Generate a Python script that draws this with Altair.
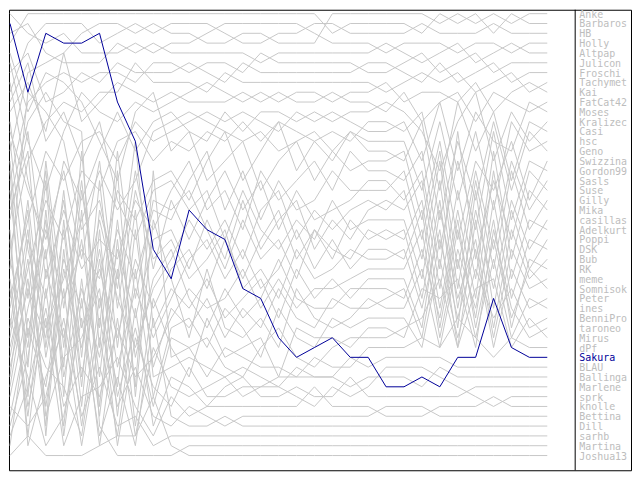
import altair as alt
import pandas as pd

names = ["Anke", "Barbaros", "HB", "Holly", "Altpap", "Julicon", "Froschi", "Tachymet",
         "Kai", "FatCat42", "Moses", "Kralizec", "Casi", "hsc", "Geno", "Swizzina",
         "Gordon99", "Sasls", "Suse", "Gilly", "Mika", "casillas", "Adelkurt", "Poppi",
         "DSK", "Bub", "RK", "meme", "Somnisok", "Peter", "ines", "BenniPro", "taroneo",
         "Mirus", "dPf", "Sakura", "BLAU", "Ballinga", "Marlene", "sprk", "knolle",
         "Bettina", "Dill", "sarhb", "Martina", "Joshua13"]

highlight = "Sakura"

anke     = [15,7,6,5,3,2,2,3,2, 3,3,4,4,3,3,4,4,4,1,1,1, 1,1,1,2,1,2,1,2,1,1]
barbaros = [4,1,1,1,1,1,1,1,1, 1,1,1,1,1,1,1,1,1,3,2,2, 2,2,3,1,2,1,3,1,2,2]
hb       = [9,4,2,2,2,4,3,2,3, 2,2,2,3,4,4,3,3,2,2,3,3, 3,3,2,3,3,3,2,3,3,3]
holly    = [1,3,4,3,5,5,5,4,5, 4,4,3,2,2,2,2,2,3,4,4,4, 5,4,4,4,5,4,4,5,4,4]
altpap   = [3,2,5,6,6,6,4,5,4, 5,5,5,5,5,6,5,5,5,5,5,5, 4,5,6,5,4,6,5,4,5,5]
julicon  = [18,10,8,7,8,7,7,8,6, 6,7,6,6,7,5,6,6,6,6,6,7, 7,6,5,7,6,5,7,6,6,6]
froschi  = [7,5,10,9,7,8,6,7,7, 7,6,7,8,6,7,7,7,7,7,7,6, 6,7,8,6,8,7,6,8,7,7]
tachymet = [25,16,12,10,11,9,9,6,8, 8,8,9,7,8,8,8,8,8,8,8,8, 9,8,7,8,7,9,8,7,9,8]
kai      = [6,14,19,13,9,11,12,10,11, 10,9,8,9,10,9,10,9,9,10,9,9, 8,10,9,9,10,8,11,9,8,9]
fatcat42 = [11,8,13,5,12,10,8,9,10, 9,10,10,10,9,10,9,10,10,9,10,10, 11,9,12,10,9,12,9,10,11,10]
moses    = [30,22,15,18,14,13,16,12,14, 13,12,11,12,11,12,13,11,12,11,12,13, 13,12,16,10,17,11,14,15,10,11]
kralizec = [8,18,26,16,20,15,11,15,12, 11,13,14,11,13,11,11,12,11,12,11,11, 10,11,13,17,12,9,16,11,14,12]
casi     = [35,27,20,24,17,19,14,13,16, 14,15,13,14,12,14,12,13,14,13,14,12, 12,13,11,19,10,15,11,18,12,13]
hsc      = [12,25,33,28,22,17,21,18,13, 12,11,12,13,14,13,15,14,13,15,13,14, 14,14,19,12,20,13,21,12,15,14]
geno     = [40,31,23,30,25,28,19,22,18, 17,20,16,13,18,15,12,17,14,16,13,15, 15,16,12,22,14,20,12,19,13,15]
swizzina = [5,11,7,8,10,14,18,11,9, 15,13,18,16,14,19,16,14,18,15,17,16, 16,15,22,14,24,16,19,14,20,16]
gordon99 = [22,13,28,21,27,24,26,20,23, 19,16,21,19,23,17,20,18,16,19,15,17, 17,18,15,25,16,23,13,22,16,17]
sasls    = [14,30,17,35,19,31,23,28,21, 22,18,15,21,17,22,18,21,20,17,19,19, 19,17,24,15,27,17,25,16,21,18]
suse     = [27,9,11,14,23,20,29,17,27, 20,24,20,17,21,18,23,19,22,21,20,18, 18,20,17,27,13,26,18,24,17,19]
gilly    = [33,20,36,26,31,22,30,35,29, 26,22,25,22,26,21,19,24,21,23,21,20, 21,19,26,16,29,18,27,17,23,20]
mika     = [16,34,22,38,29,36,25,32,24, 23,27,22,26,20,25,22,20,25,22,24,21, 20,21,18,29,19,28,15,26,19,21]
casillas = [10,6,14,11,16,12,20,24,19, 18,21,19,24,19,23,25,22,24,20,23,22, 22,22,28,18,31,21,29,20,25,22]
adelkurt = [38,24,30,20,33,27,34,26,31, 27,25,29,24,28,24,21,26,23,26,22,24, 23,24,20,31,21,30,17,28,22,23]
poppi    = [19,37,16,31,18,33,15,30,20, 21,19,23,27,22,26,24,28,23,25,26,23, 24,23,30,20,33,19,31,21,27,24]
dsk      = [42,33,39,27,35,25,37,29,34, 30,26,24,28,25,29,27,23,27,24,27,25, 25,26,21,33,23,32,20,30,24,25]
bub      = [13,19,24,17,26,16,31,19,26, 24,28,26,23,29,27,30,25,28,27,25,26, 26,25,31,23,35,22,33,23,28,26]
rk       = [44,39,31,41,37,40,33,38,36, 32,29,31,30,27,31,28,31,29,29,28,27, 27,27,23,34,25,31,22,33,26,27]
meme     = [21,15,35,23,39,21,28,14,33, 29,31,28,32,30,28,32,27,30,28,30,28, 28,28,33,21,30,24,34,25,29,28]
somnisok = [29,42,27,34,24,38,22,36,28, 25,30,33,29,32,30,26,30,31,31,29,29, 29,30,25,32,22,33,24,32,27,29]
peter    = [36,26,41,29,43,30,39,23,37, 31,33,30,34,31,33,29,32,33,30,31,31, 30,29,34,24,32,25,35,27,31,30]
ines     = [17,40,21,37,15,35,17,40,22, 28,34,27,33,34,32,35,29,32,33,32,30, 31,31,27,35,26,34,26,34,30,31]
bennipro = [31,21,44,25,41,23,42,27,40, 33,32,35,31,33,36,31,34,35,32,33,32, 32,32,35,26,34,27,32,29,33,32]
taroneo  = [24,44,29,43,28,42,27,43,30, 35,38,32,36,35,34,38,33,34,34,35,33, 33,34,29,30,28,35,23,31,34,33]
mirus    = [39,28,43,22,38,26,40,33,41, 34,35,34,37,38,35,33,36,37,35,34,34, 34,33,32,28,35,29,28,35,32,34]
dpf      = [26,35,18,40,21,41,24,39,17, 36,35,38,35,36,37,37,38,36,37,37,35, 35,35,34,35,32,34,36,34,35,35]
sakura   = [2,9,3,4,4,3,10,14,25, 28,21,23,24,29,30,34,36,35,34,36,36, 39,39,38,39,36,36,30,35,36,36]
blau     = [37,29,34,19,36,18,35,21,38, 37,36,37,38,37,38,39,37,38,38,36,37, 36,36,36,36,37,37,37,37,37,37]
ballinga = [43,36,25,44,30,45,32,44,35, 39,40,39,38,40,39,38,38,38,38,39,38, 38,38,39,37,38,38,38,38,38,38]
marlene  = [23,45,38,33,45,34,44,31,43, 38,39,41,39,38,40,40,39,40,40,38,40, 40,40,40,40,40,39,39,39,39,39]
sprk     = [34,23,42,36,34,29,45,34,39, 41,37,40,40,39,39,39,40,41,39,40,39, 37,37,37,38,39,40,41,40,40,40]
knolle   = [28,41,32,45,40,39,36,41,44, 40,42,41,41,41,41,41,41,39,41,41,41, 42,42,42,41,41,41,40,41,41,41]
bettina  = [45,32,37,39,44,32,41,37,42, 43,41,42,43,42,42,42,42,42,42,42,42, 41,41,41,42,42,42,42,42,42,42]
dill     = [32,38,45,42,32,44,38,45,32, 42,43,43,42,43,43,43,43,43,43,43,43, 43,43,43,43,43,43,43,43,43,43]
sarhb    = [41,43,40,32,42,37,43,42,45, 44,44,44,44,44,44,44,44,44,44,44,44, 44,44,44,44,44,44,44,44,44,44]
martina  = [20,12,9,12,13,43,46,46,46, 46,45,45,45,45,45,45,45,45,45,45,45, 45,45,45,45,45,45,45,45,45,45]
joshua13 = [46,44,46,46,46,45,44,44,40, 45,46,46,46,46,46,46,46,46,46,46,46, 46,46,46,46,46,46,46,46,46,46]

series = [anke, barbaros, hb, holly, altpap, julicon, froschi, tachymet, kai, fatcat42,
          moses, kralizec, casi, hsc, geno, swizzina, gordon99, sasls, suse, gilly, mika,
          casillas, adelkurt, poppi, dsk, bub, rk, meme, somnisok, peter, ines, bennipro,
          taroneo, mirus, dpf, sakura, blau, ballinga, marlene, sprk, knolle, bettina,
          dill, sarhb, martina, joshua13]

rows = []
for name, vals in zip(names, series):
    for step, r in enumerate(vals):
        rows.append({"player": name, "step": step, "rank": r})
df = pd.DataFrame(rows)

leg = pd.DataFrame({"name": names, "pos": [vals[-1] for vals in series]})

GRAY = "#c8c8c8"
BLUE = "#000099"
W, H = 624, 462
DIV = 568

xscale = alt.Scale(domain=[-0.0557, 34.675], nice=False, zero=False)
yscale = alt.Scale(domain=[0.6, 47.5], reverse=True, nice=False, zero=False)

base = alt.Chart(df).mark_line(strokeWidth=1).encode(
    x=alt.X("step:Q", scale=xscale, axis=None),
    y=alt.Y("rank:Q", scale=yscale, axis=None),
    detail="player:N",
    order="step:Q",
)
gray = base.transform_filter(alt.datum.player != highlight).encode(color=alt.value(GRAY))
hi = base.transform_filter(alt.datum.player == highlight).encode(color=alt.value(BLUE))

legend = alt.Chart(leg).mark_text(
    align="left", baseline="middle", font="DejaVu Sans Mono", fontSize=10, dy=1
).encode(
    x=alt.value(DIV + 4),
    y=alt.Y("pos:Q", scale=yscale, axis=None),
    text="name:N",
    color=alt.condition(alt.datum.name == highlight, alt.value(BLUE), alt.value("#bdbdbd")),
)

divider = alt.Chart(leg.head(1)).mark_rule(color="black", strokeWidth=1).encode(
    x=alt.value(DIV), y=alt.value(0), y2=alt.value(H)
)

chart = alt.layer(gray, hi, legend, divider).properties(
    width=W, height=H,
    padding={"left": 0, "top": 0, "right": 1, "bottom": 1},
).configure_view(stroke="black", strokeWidth=1)

chart.save("out.html", embed_options={"renderer": "svg", "actions": False})
